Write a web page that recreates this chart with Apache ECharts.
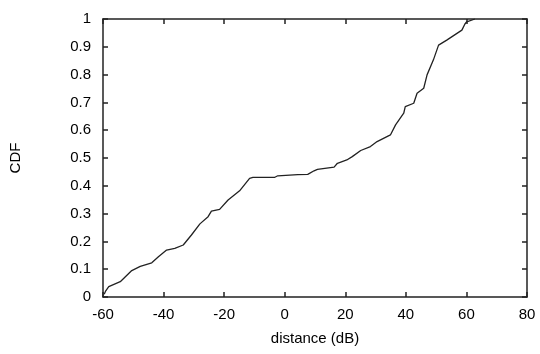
<!DOCTYPE html>
<html>
<head>
<meta charset="utf-8">
<script src="https://cdn.jsdelivr.net/npm/echarts@6/dist/echarts.min.js"></script>
<style>html,body{margin:0;padding:0;background:#fff}#c{width:540px;height:354px}</style>
</head>
<body>
<div id="c"></div>
<script>
const xTitle = "distance (dB)";
const yTitle = "CDF";
const distance = [-59.6, -59.2, -58.1, -54.3, -50.5, -47.7, -43.9, -41.7, -39.0, -36.3, -33.5, -30.8, -28.0, -25.3, -24.2, -21.5, -18.7, -14.9, -11.6, -10.5, -3.4, -2.3, 4.3, 7.6, 9.7, 10.8, 16.3, 17.4, 20.5, 22.3, 25.1, 28.3, 30.5, 34.9, 36.6, 39.3, 39.8, 42.6, 43.7, 45.9, 47.0, 49.1, 50.8, 53.5, 58.5, 59.5, 60.1, 62.8];
const cdf = [0.01, 0.02, 0.037, 0.055, 0.095, 0.11, 0.123, 0.145, 0.169, 0.175, 0.187, 0.223, 0.263, 0.289, 0.309, 0.315, 0.349, 0.382, 0.427, 0.43, 0.43, 0.436, 0.44, 0.441, 0.454, 0.459, 0.467, 0.481, 0.493, 0.505, 0.527, 0.541, 0.559, 0.583, 0.619, 0.661, 0.685, 0.697, 0.733, 0.751, 0.799, 0.853, 0.906, 0.924, 0.96, 0.982, 0.99, 1.0];

const data = distance.map((d, i) => [d, cdf[i]]);
const font = "Liberation Sans";
const axisLine = {show: true, onZero: false, lineStyle: {color: '#222', width: 1.5}};
const ticks = {show: true, inside: true, length: 5, lineStyle: {color: '#222', width: 1.5}};

const chart = echarts.init(document.getElementById('c'));
chart.setOption({
  animation: false,
  grid: {left: 101, right: 13, top: 19, bottom: 57, containLabel: false},
  xAxis: [{
    type: 'value', min: -60, max: 80, interval: 20, position: 'bottom',
    name: xTitle, nameLocation: 'middle', nameGap: 34,
    nameTextStyle: {fontFamily: font, fontSize: 15, color: '#000'},
    axisLine, axisTick: ticks, splitLine: {show: false},
    axisLabel: {fontFamily: font, fontSize: 15, color: '#000', margin: 10}
  }, {
    type: 'value', min: -60, max: 80, interval: 20, position: 'top',
    axisLine, axisTick: ticks, splitLine: {show: false}, axisLabel: {show: false}
  }],
  yAxis: [{
    type: 'value', min: 0, max: 1, interval: 0.1, position: 'left',
    name: yTitle, nameLocation: 'middle', nameGap: 80, nameRotate: 90,
    nameTextStyle: {fontFamily: font, fontSize: 15, color: '#000'},
    axisLine, axisTick: ticks, splitLine: {show: false},
    axisLabel: {fontFamily: font, fontSize: 15, color: '#000', margin: 12,
      formatter: v => (Math.round(v * 10) / 10).toString()}
  }, {
    type: 'value', min: 0, max: 1, interval: 0.1, position: 'right',
    axisLine, axisTick: ticks, splitLine: {show: false}, axisLabel: {show: false}
  }],
  series: [{
    type: 'line', data, showSymbol: false, symbol: 'none',
    lineStyle: {color: '#222', width: 1.3}, xAxisIndex: 0, yAxisIndex: 0
  }]
});
</script>
</body>
</html>
